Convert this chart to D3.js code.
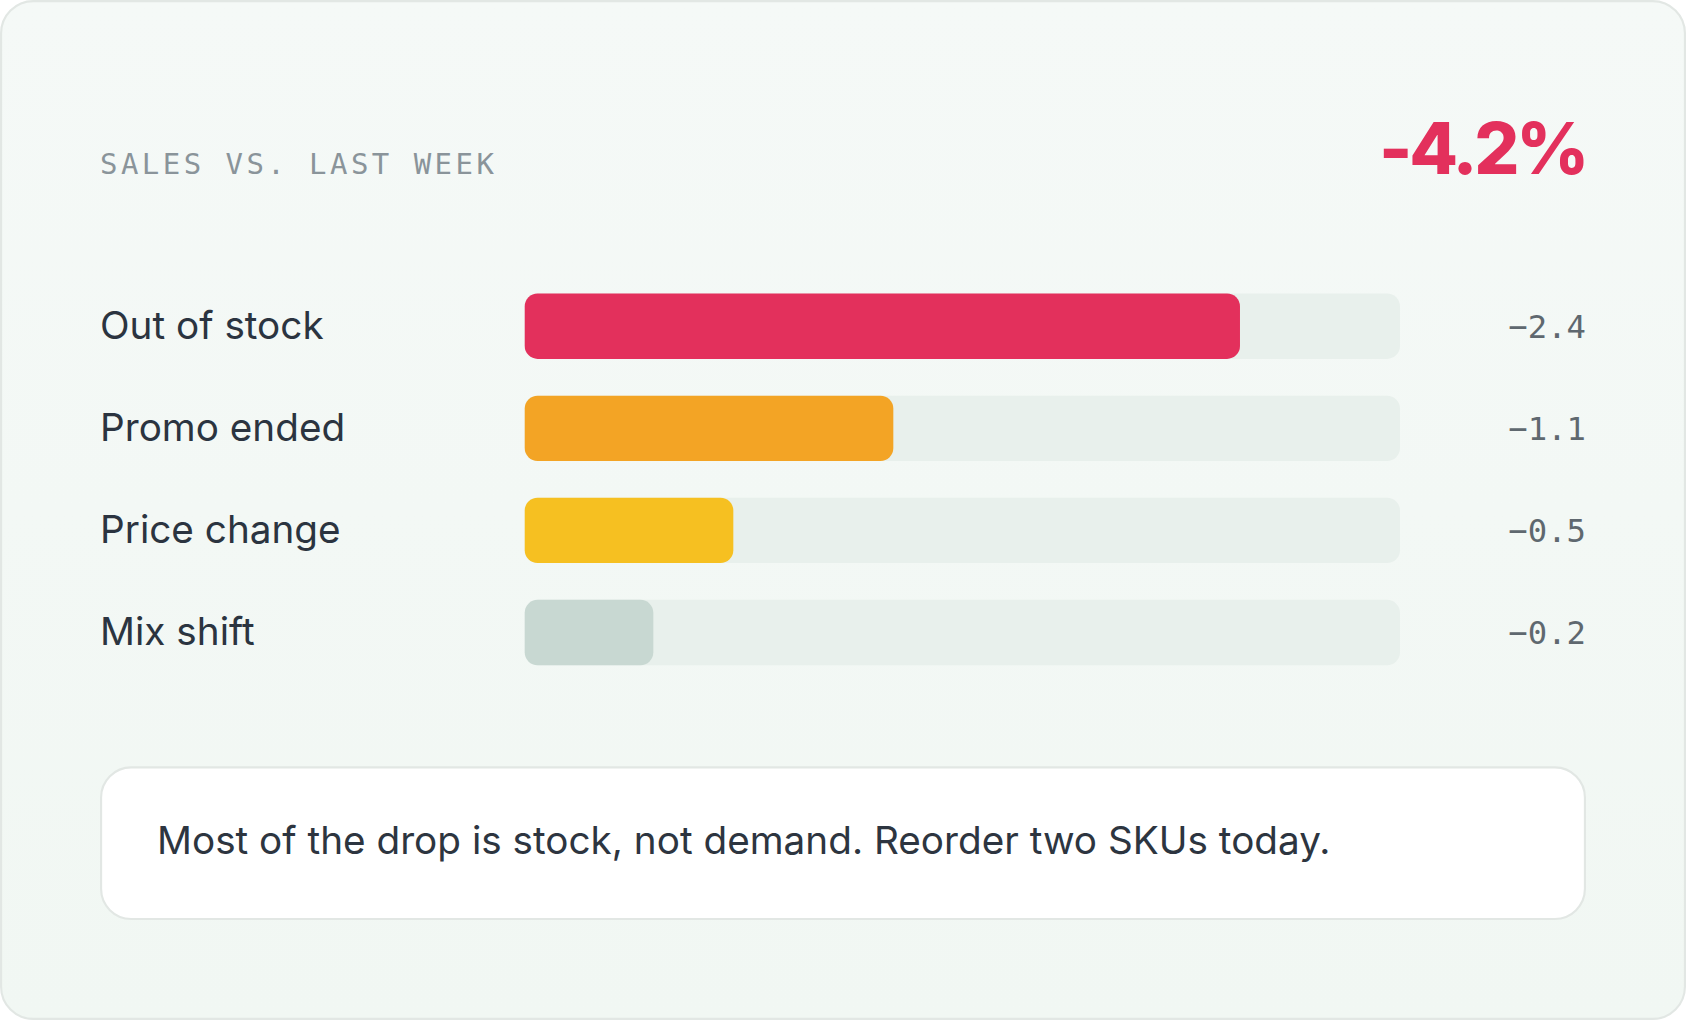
<!DOCTYPE html>
<html><head><meta charset="utf-8">
<script src="https://cdn.jsdelivr.net/npm/d3@7"></script>
<style>html,body{margin:0;padding:0;background:#fff;overflow:hidden}</style>
</head><body>
<script>
const categories = ["Out of stock","Promo ended","Price change","Mix shift"];
const values = [-2.4,-1.1,-0.5,-0.2];
const valueLabels = ["\u22122.4","\u22121.1","\u22120.5","\u22120.2"];
const colors = ["#e3305c","#f3a425","#f6c021","#c8d8d2"];
const title = "SALES VS. LAST WEEK";
const headline = "-4.2%";
const note = "Most of the drop is stock, not demand. Reorder two SKUs today.";

const W=1568,H=949;
const svg=d3.select("body").append("svg").attr("width",1686).attr("height",1020)
  .attr("viewBox",`0 0 ${W} ${H}`).attr("preserveAspectRatio","none");
const defs=svg.append("defs");
const g=defs.append("linearGradient").attr("id","bg").attr("x1",0).attr("y1",0).attr("x2",0).attr("y2",1);
g.append("stop").attr("offset",0).attr("stop-color","#f5f9f7");
g.append("stop").attr("offset",1).attr("stop-color","#f1f7f3");
svg.append("rect").attr("x",1).attr("y",1).attr("width",W-2).attr("height",H-2).attr("rx",30)
  .attr("fill","url(#bg)").attr("stroke","#e2e7e4").attr("stroke-width",2);

svg.append("text").attr("x",93).attr("y",162).text(title)
  .attr("font-family","'DejaVu Sans Mono',monospace").attr("font-size",27).attr("letter-spacing",3.2).attr("fill","#8a949a");
svg.append("text").attr("x",1475).attr("y",162).attr("text-anchor","end").text(headline)
  .attr("font-family","Inter,sans-serif").attr("font-weight",800).attr("font-size",66).attr("letter-spacing",-3).attr("fill","#e3305c");

const x0=488, trackW=814;
const w=d3.scaleLinear().domain([0,3]).range([70,trackW]);
const y=d3.scaleBand().domain(categories).range([256,636]).paddingInner(0.36).paddingOuter(0.18);
const rows=svg.selectAll("g.row").data(categories).join("g").attr("class","row")
  .attr("transform",d=>`translate(0,${y(d)})`);
const bh=y.bandwidth();
rows.append("rect").attr("x",x0).attr("width",trackW).attr("height",bh).attr("rx",12).attr("fill","#e8f0ec");
rows.append("rect").attr("x",x0).attr("width",(d,i)=>w(Math.abs(values[i]))).attr("height",bh).attr("rx",12)
  .attr("fill",(d,i)=>colors[i]);
rows.append("text").attr("x",93).attr("y",bh/2+12).text(d=>d)
  .attr("font-family","Inter,sans-serif").attr("font-size",36).attr("fill","#2b3440");
rows.append("text").attr("x",1475).attr("y",bh/2+11).attr("text-anchor","end").text((d,i)=>valueLabels[i])
  .attr("font-family","'DejaVu Sans Mono',monospace").attr("font-size",30).attr("fill","#5f686f");

svg.append("rect").attr("x",94).attr("y",714).attr("width",1380).attr("height",141).attr("rx",28)
  .attr("fill","#fff").attr("stroke","#e2e7e4").attr("stroke-width",2);
svg.append("text").attr("x",146).attr("y",795).text(note)
  .attr("font-family","Inter,sans-serif").attr("font-size",36).attr("fill","#2d3540");
</script>
</body></html>
